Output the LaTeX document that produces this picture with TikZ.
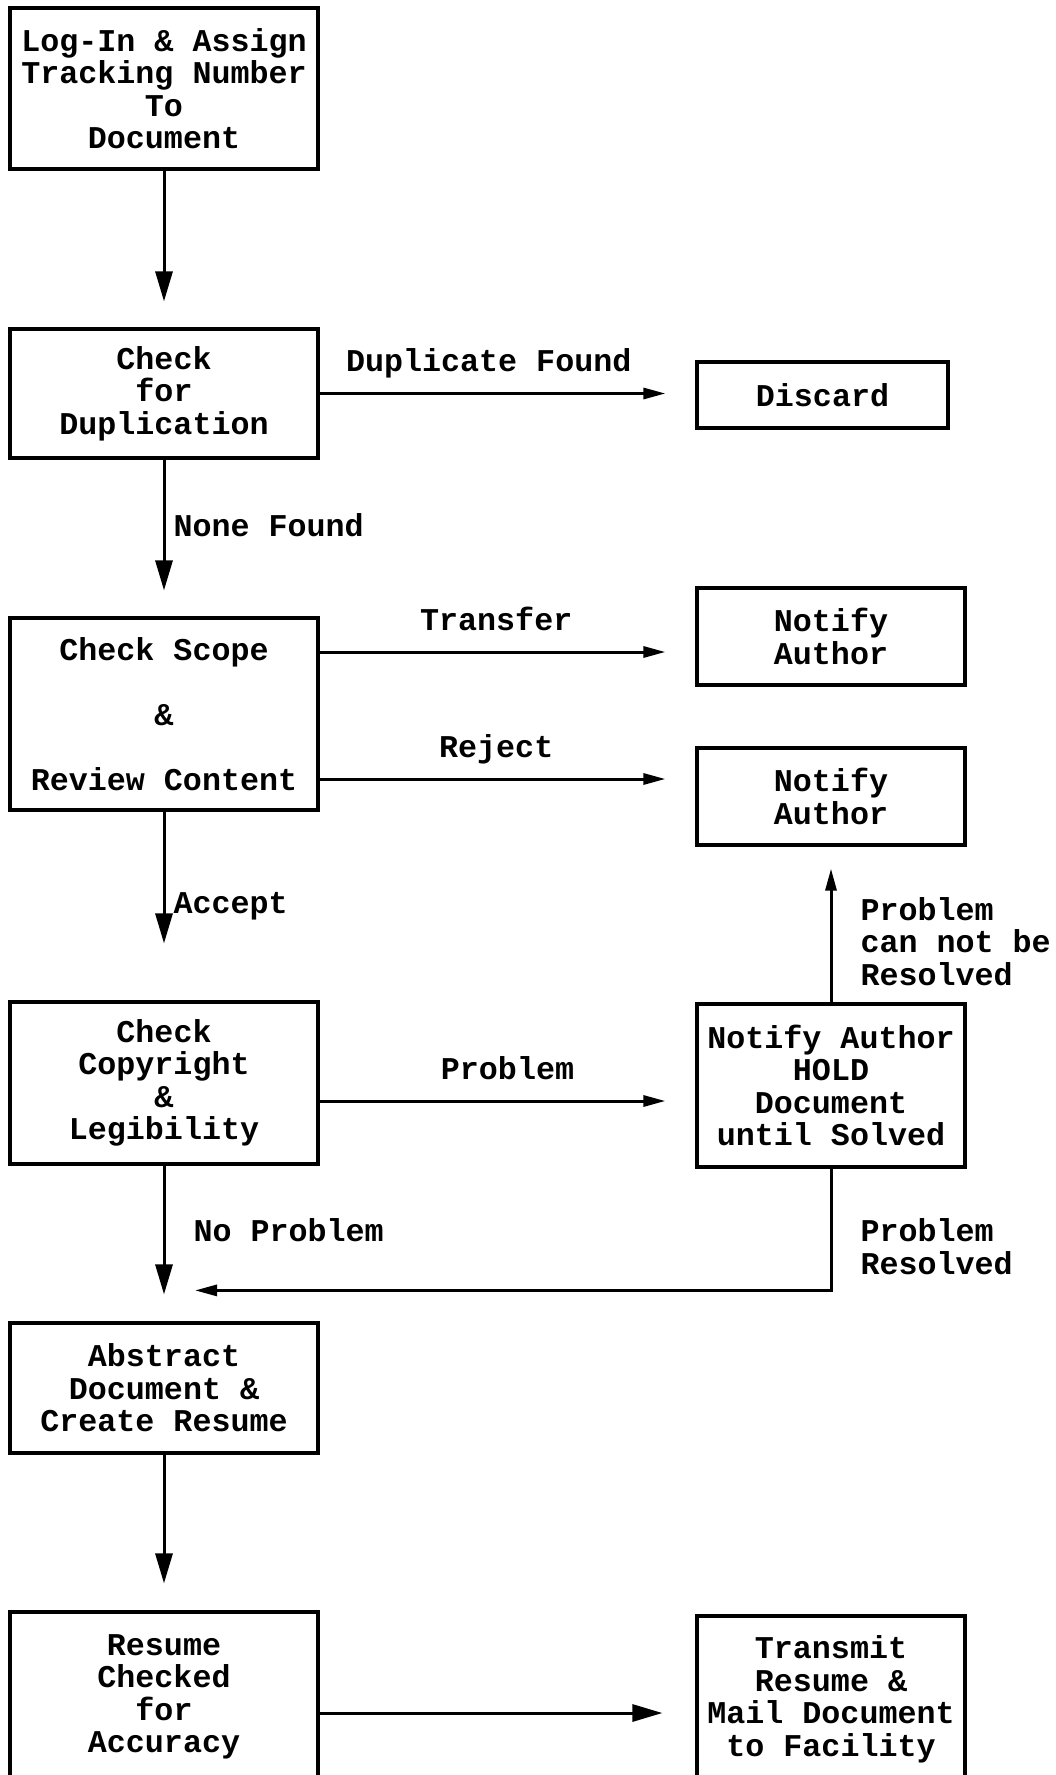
\documentclass[tikz,border=0pt]{standalone}
\usepackage{fontspec}
\setmainfont{Liberation Mono}
\usetikzlibrary{arrows.meta}

\begin{document}
\begin{tikzpicture}[x=1pt, y=-1pt,
    font=\fontsize{31.7}{32.5}\selectfont\bfseries,
    box/.style={draw, line width=3.2pt, align=center, inner sep=3pt, minimum width=308pt},
    rbox/.style={box, minimum width=268pt},
    flow/.style={line width=3pt, -{Triangle[length=30pt,width=17pt]}},
    sflow/.style={line width=3pt, -{Triangle[length=22pt,width=11pt]}},
    lbl/.style={inner sep=0pt}]
  \useasboundingbox (0,0) rectangle (1056,1775);
  %% \draw[very thin,color=gray,step=100] (0,0) grid (1056,1775);
  \node[box, minimum height=161pt] (login) at (164,88.5) {Log-In \& Assign\\Tracking Number\\To\\Document};
  \node[box, minimum height=129pt] (dupchk) at (164,393.5) {Check\\for\\Duplication};
  \node[rbox, minimum width=251pt, minimum height=66pt] (discard) at (822.5,395) {Discard};
  \node[box, minimum height=192pt] (scope) at (164,714) {Check Scope\\[32.5pt]\&\\[32.5pt]Review Content};
  \node[rbox, minimum height=97pt] (notifyA) at (831,636.5) {Notify\\Author};
  \node[rbox, minimum height=97pt] (notifyB) at (831,796.5) {Notify\\Author};
  \node[box, minimum height=162pt] (copyr) at (164,1083) {Check\\Copyright\\\&\\Legibility};
  \node[rbox, minimum height=163pt] (hold) at (831,1085.5) {Notify Author\\HOLD\\Document\\until Solved};
  \node[box, minimum height=130pt] (abstr) at (164,1388) {Abstract\\Document \&\\Create Resume};
  \node[box, minimum height=170pt] (resumechk) at (164,1697) {Resume\\Checked\\for\\Accuracy};
  \node[rbox, minimum height=167pt] (transmit) at (831,1699.5) {Transmit\\Resume \&\\Mail Document\\to Facility};
  \coordinate (merge) at ([yshift=31pt]abstr.north);

  \foreach \a/\b/\s in {login/dupchk/26, abstr/resumechk/27} {
    \draw[flow, shorten >=\s pt] (\a) -- (\b);
  }
  \draw[sflow, shorten >=30pt] (dupchk.east) -- (dupchk.east -| discard.west)
    node[lbl, pos=.45, anchor=base, yshift=22pt] (lDup) {Duplicate Found};
  \draw[flow, shorten >=26pt] (dupchk) -- (scope)
    node[lbl, pos=.42, right=8pt] (lNone) {None Found};
  \draw[sflow, shorten >=30pt] ([yshift=62pt]scope.east) -- ([yshift=62pt]scope.east -| notifyA.west)
    node[lbl, pos=.47, anchor=base, yshift=22pt] (lTrans) {Transfer};
  \draw[sflow, shorten >=30pt] ([yshift=-65pt]scope.east) -- ([yshift=-65pt]scope.east -| notifyB.west)
    node[lbl, pos=.47, anchor=base, yshift=22pt] (lRej) {Reject};
  \draw[flow, shorten >=57pt] (scope) -- (copyr)
    node[lbl, midway, right=8pt] (lAcc) {Accept};
  \draw[sflow, shorten >=30pt] ([yshift=-18pt]copyr.east) -- ([yshift=-18pt]copyr.east -| hold.west)
    node[lbl, midway, anchor=base, yshift=22pt] (lProb) {Problem};
  \draw[sflow, shorten >=22pt] (hold) -- (notifyB)
    node[lbl, pos=.39, right=28pt, align=left] (lNoRes) {Problem\\can not be\\Resolved};
  \draw[flow, shorten >=27pt] (copyr) -- (abstr)
    node[lbl, pos=.415, right=28pt] (lNoProb) {No Problem};
  \draw[sflow, shorten >=31pt] (hold.south) |- (merge)
    node[lbl, pos=.32, right=28pt, align=left] (lRes) {Problem\\Resolved};
  \draw[flow, shorten >=33pt] ([yshift=-16pt]resumechk.east) -- ([yshift=-16pt]resumechk.east -| transmit.west);
\end{tikzpicture}
\end{document}
